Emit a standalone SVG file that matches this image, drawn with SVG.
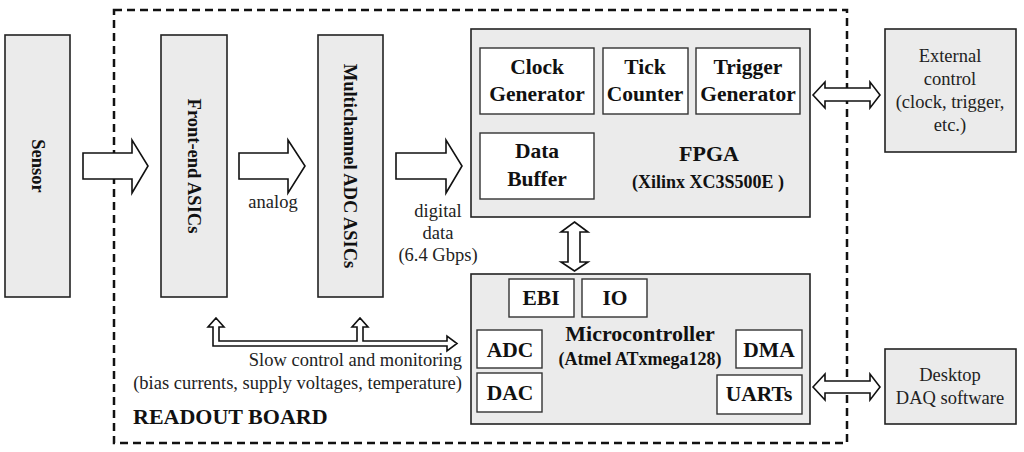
<svg xmlns="http://www.w3.org/2000/svg" width="1024" height="452" viewBox="0 0 1024 452">
<style>
.box{fill:#ebebeb;stroke:#222;stroke-width:1.6}
.inner{fill:#fff;stroke:#333;stroke-width:1.4}
.arr{fill:#fff;stroke:#111;stroke-width:1.6;stroke-linejoin:miter}
.b{font-family:"Liberation Serif",serif;font-weight:bold;fill:#111}
.r{font-family:"Liberation Serif",serif;fill:#222}
.c{text-anchor:middle}
</style>
<rect width="1024" height="452" fill="#fff"/>
<g id="readout-board">
<rect x="114" y="10" width="733" height="433" fill="none" stroke="#111" stroke-width="2.5" stroke-dasharray="8 5"/>
<text class="b" x="133" y="424" font-size="22">READOUT BOARD</text>
</g>
<g id="sensor">
<rect class="box" x="5" y="35" width="65" height="262"/>
<text class="b c" font-size="18.5" transform="translate(32,166) rotate(90)">Sensor</text>
</g>
<g id="frontend">
<rect class="box" x="161" y="35" width="66" height="262"/>
<text class="b c" font-size="18.5" transform="translate(188,166) rotate(90)">Front-end ASICs</text>
</g>
<g id="adc-asics">
<rect class="box" x="318" y="35" width="65" height="262"/>
<text class="b c" font-size="18.5" transform="translate(344,166) rotate(90)">Multichannel ADC ASICs</text>
</g>
<g id="fpga">
<rect class="box" x="471" y="29" width="339" height="188"/>
<text class="b c" x="709" y="161" font-size="22">FPGA</text>
<text class="b c" x="708" y="188" font-size="18">(Xilinx XC3S500E )</text>
</g>
<g id="clock-gen">
<rect class="inner" x="480" y="48" width="114" height="66"/>
<text class="b c" x="537" y="74" font-size="21.5">Clock</text>
<text class="b c" x="537" y="101" font-size="21.5">Generator</text>
</g>
<g id="tick-counter">
<rect class="inner" x="603" y="48" width="85" height="66"/>
<text class="b c" x="645" y="74" font-size="21.5">Tick</text>
<text class="b c" x="645" y="101" font-size="21.5">Counter</text>
</g>
<g id="trigger-gen">
<rect class="inner" x="696" y="48" width="104" height="66"/>
<text class="b c" x="748" y="74" font-size="21.5">Trigger</text>
<text class="b c" x="748" y="101" font-size="21.5">Generator</text>
</g>
<g id="data-buffer">
<rect class="inner" x="480" y="133" width="114" height="66"/>
<text class="b c" x="537" y="158" font-size="21.5">Data</text>
<text class="b c" x="537" y="186" font-size="21.5">Buffer</text>
</g>
<g id="mcu">
<rect class="box" x="471" y="274" width="339" height="150"/>
<text class="b c" x="640" y="341" font-size="22">Microcontroller</text>
<text class="b c" x="640" y="365" font-size="18">(Atmel ATxmega128)</text>
</g>
<g id="ebi">
<rect class="inner" x="509" y="279" width="65" height="38"/>
<text class="b c" x="541" y="305" font-size="21.5">EBI</text>
</g>
<g id="io">
<rect class="inner" x="582" y="279" width="65" height="38"/>
<text class="b c" x="615" y="305" font-size="21.5">IO</text>
</g>
<g id="adc">
<rect class="inner" x="477" y="330" width="65" height="38"/>
<text class="b c" x="510" y="357" font-size="21.5">ADC</text>
</g>
<g id="dac">
<rect class="inner" x="477" y="373" width="65" height="39"/>
<text class="b c" x="510" y="400" font-size="21.5">DAC</text>
</g>
<g id="dma">
<rect class="inner" x="736" y="330" width="66" height="38"/>
<text class="b c" x="769" y="357" font-size="21.5">DMA</text>
</g>
<g id="uarts">
<rect class="inner" x="717" y="375" width="85" height="39"/>
<text class="b c" x="759" y="401" font-size="21.5">UARTs</text>
</g>
<g id="external">
<rect class="box" x="885" y="29" width="131" height="123"/>
<text class="r c" x="950" y="62" font-size="18.5">External</text>
<text class="r c" x="950" y="85" font-size="18.5">control</text>
<text class="r c" x="950" y="108" font-size="18.5">(clock, trigger,</text>
<text class="r c" x="950" y="131" font-size="18.5">etc.)</text>
</g>
<g id="desktop">
<rect class="box" x="885" y="349" width="131" height="75"/>
<text class="r c" x="950" y="381" font-size="18.5">Desktop</text>
<text class="r c" x="950" y="404" font-size="18.5">DAQ software</text>
</g>
<g id="connectors">
<path class="arr" d="M83,153 H132 V140 L148,166 L132,193 V179 H83 Z"/>
<path class="arr" d="M239,153 H288 V140 L305,166 L288,193 V179 H239 Z"/>
<path class="arr" d="M396,153 H446 V140 L462,166 L446,193 V179 H396 Z"/>
<path class="arr" d="M813,95 L825,82 V88 H870 V82 L880,95 L870,108 V101 H825 V108 Z"/>
<path class="arr" d="M813,387 L825,374 V381 H870 V374 L880,387 L870,400 V393 H825 V400 Z"/>
<path class="arr" d="M574.5,222 L588,232 H580 V262 H588 L574.5,271 L561,262 H568 V232 H561 Z"/>
<path class="arr" stroke-width="1.4" d="M216,318 L224,327 H219 V341 H357 V327 H352 L360,318 L368,327 H363 V341 H447 V336 L457,343.5 L447,351 V346 H213 V327 H208 Z"/>
<text class="r c" x="273" y="208" font-size="18.5">analog</text>
<text class="r c" x="438" y="217" font-size="18.5">digital</text>
<text class="r c" x="438" y="239" font-size="18.5">data</text>
<text class="r c" x="438" y="261" font-size="18.5">(6.4 Gbps)</text>
<text class="r" x="462" y="366" font-size="18.5" text-anchor="end">Slow control and monitoring</text>
<text class="r" x="462" y="389" font-size="18.5" text-anchor="end">(bias currents, supply voltages, temperature)</text>
</g>
</svg>
